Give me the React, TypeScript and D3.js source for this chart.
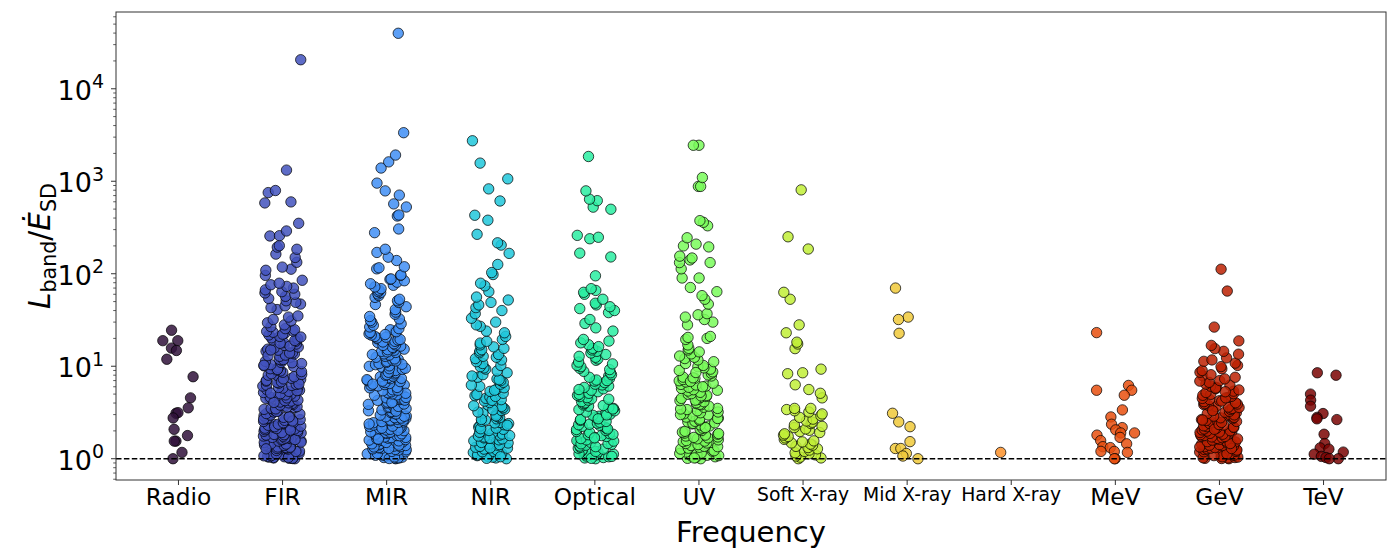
import React from "react";
import * as d3 from "d3";

// ---------------- DATA ----------------
const categories = [
  "Radio", "FIR", "MIR", "NIR", "Optical", "UV",
  "Soft X-ray", "Mid X-ray", "Hard X-ray", "MeV", "GeV", "TeV",
];

const radio = [24.5, 18.9, 18.9, 15.7, 14.8, 11.9, 7.7, 4.55, 3.55, 3.1, 3.15, 2.76, 2.08, 1.78, 1.55, 1.55, 1.17, 1.0];

const fir = [
  1.0, 1.01, 1.02, 1.03, 1.04, 1.05, 1.06, 1.08, 1.09, 1.1, 1.12, 1.14, 1.16, 1.18, 1.21, 1.24,
  1.005, 1.015, 1.035, 1.075, 1.13, 1.2, 1.23,
  1.27, 1.29, 1.3, 1.32, 1.34, 1.36, 1.38, 1.4, 1.42, 1.45, 1.47, 1.5, 1.53, 1.56,
  1.28, 1.33, 1.39, 1.44, 1.51, 1.55,
  1.6, 1.62, 1.65, 1.68, 1.7, 1.73, 1.76, 1.8, 1.83, 1.86, 1.9, 1.94, 1.98,
  1.61, 1.67, 1.75, 1.82, 1.92,
  2.02, 2.06, 2.1, 2.14, 2.18, 2.2, 2.25, 2.3, 2.34, 2.38, 2.43, 2.48,
  2.04, 2.12, 2.22, 2.36, 2.45,
  2.53, 2.6, 2.65, 2.7, 2.75, 2.8, 2.86, 2.92, 3.0, 3.05, 3.12,
  2.56, 2.68, 2.83, 2.96, 3.08,
  3.2, 3.28, 3.35, 3.42, 3.5, 3.58, 3.66, 3.75, 3.85, 3.95,
  3.24, 3.46, 3.62, 3.8,
  4.02, 4.1, 4.2, 4.3, 4.42, 4.5, 4.62, 4.75, 4.85, 4.98,
  4.06, 4.25, 4.55, 4.9,
  5.05, 5.2, 5.35, 5.5, 5.6, 5.8, 5.95, 6.1, 6.25,
  5.12, 5.45, 5.9, 6.2,
  6.35, 6.55, 6.7, 6.9, 7.05, 7.2, 7.4, 7.6, 7.85,
  6.45, 6.8, 7.3, 7.7,
  8.0, 8.3, 8.6, 8.9, 9.1, 9.4, 9.7, 9.95,
  8.15, 8.75, 9.25,
  10.1, 10.4, 10.7, 11.0, 11.3, 11.6, 11.9, 12.2, 12.5,
  10.25, 10.9, 11.8,
  12.8, 13.2, 13.6, 14.0, 14.5, 14.9, 15.3, 15.7,
  13.0, 13.9, 15.0,
  16.1, 16.8, 17.4, 18.0, 18.6, 19.2, 19.8,
  16.5, 17.7, 19.0,
  20.3, 21.0, 21.8, 22.6, 23.3, 24.0, 24.8,
  20.7, 22.2, 23.8,
  25.5, 26.8, 28.0, 29.5, 31.0,
  32, 34, 35,
  41, 43, 45, 47, 49,
  51, 54, 57, 60, 62,
  64, 67, 70, 73, 76, 79,
  85, 96,
  109, 112, 118, 133, 150, 163, 184, 194, 201, 256, 258, 290, 351, 583, 598, 754, 794, 1320, 20600,
];

const mir = [
  1.0, 1.01, 1.02, 1.03, 1.04, 1.05, 1.07, 1.08, 1.1, 1.11, 1.13, 1.15, 1.17, 1.19, 1.22, 1.25,
  1.005, 1.025, 1.045, 1.09, 1.14, 1.2, 1.24,
  1.26, 1.28, 1.3, 1.31, 1.33, 1.35, 1.37, 1.39, 1.41, 1.44, 1.46, 1.49, 1.52, 1.54, 1.57,
  1.29, 1.34, 1.4, 1.45, 1.5, 1.56,
  1.59, 1.61, 1.64, 1.67, 1.69, 1.72, 1.75, 1.78, 1.81, 1.84, 1.88, 1.91, 1.95, 1.99,
  1.63, 1.7, 1.77, 1.86, 1.93,
  2.01, 2.05, 2.08, 2.12, 2.16, 2.19, 2.23, 2.27, 2.31, 2.36, 2.4, 2.45, 2.5,
  2.03, 2.14, 2.25, 2.38, 2.47,
  2.52, 2.57, 2.62, 2.67, 2.72, 2.78, 2.84, 2.9, 2.96, 3.02, 3.08, 3.14,
  2.6, 2.75, 2.88, 3.05,
  3.18, 3.24, 3.3, 3.37, 3.44, 3.5, 3.57, 3.64, 3.71, 3.79, 3.87, 3.95,
  3.27, 3.48, 3.68, 3.9,
  4.0, 4.1, 4.18, 4.27, 4.36, 4.45, 4.55, 4.65, 4.75, 4.86, 4.97,
  4.05, 4.3, 4.6, 4.9,
  5.03, 5.16, 5.3, 5.43, 5.56, 5.7, 5.84, 5.98, 6.13, 6.28,
  5.1, 5.5, 5.9, 6.2,
  6.33, 6.5, 6.66, 6.82, 6.99, 7.16, 7.34, 7.52, 7.7, 7.9,
  6.4, 6.9, 7.4, 7.8,
  8.0, 8.25, 8.5, 8.75, 9.0, 9.25, 9.5, 9.75, 9.98,
  8.1, 8.6, 9.4,
  10.1, 10.4, 10.7, 11.0, 11.3, 11.6, 11.9, 12.2, 12.5,
  10.5, 11.4, 12.0,
  12.8, 13.2, 13.6, 14.1, 14.5, 14.9, 15.3, 15.7,
  13.4, 14.3, 15.1,
  16.0, 16.5, 17.0, 17.5, 18.0, 18.6, 19.2, 19.8,
  16.8, 18.3, 19.5,
  20.2, 21.0, 21.7, 22.4, 23.2, 24.0, 24.8,
  20.6, 22.0, 23.6,
  25.5, 26.6, 27.7, 28.8, 30.0, 31.2,
  32.5, 34.5, 36.5, 38.5,
  41, 44, 46.5, 49,
  51, 53, 55.5, 58, 60.5, 62.5,
  64, 66.5, 69, 72, 75, 78,
  81, 84, 87,
  88, 96, 97, 113, 116, 119, 139, 151, 170, 184, 278, 305, 421, 432, 527, 569, 708, 787, 955, 1390, 1620, 1920, 3350, 39800,
];

const nir = [
  1.0, 1.02, 1.04, 1.06, 1.08, 1.11, 1.14, 1.17, 1.2, 1.24,
  1.01, 1.05, 1.1, 1.19,
  1.27, 1.3, 1.33, 1.36, 1.4, 1.44, 1.48, 1.52, 1.56,
  1.31, 1.42, 1.5,
  1.6, 1.64, 1.68, 1.72, 1.76, 1.8, 1.85, 1.9, 1.96,
  1.66, 1.78, 1.93,
  2.02, 2.08, 2.14, 2.2, 2.26, 2.33, 2.4, 2.47,
  2.11, 2.3, 2.44,
  2.54, 2.62, 2.7, 2.78, 2.86, 2.94, 3.03, 3.12,
  2.66, 2.9,
  3.2, 3.32, 3.44, 3.56, 3.68, 3.8, 3.93,
  3.38, 3.74,
  4.05, 4.2, 4.35, 4.5, 4.65, 4.8, 4.95,
  4.28, 4.72,
  5.1, 5.35, 5.6, 5.85, 6.05, 6.25,
  5.5,
  6.4, 6.7, 7.0, 7.3, 7.6, 7.85,
  7.15,
  8.1, 8.5, 8.9, 9.3, 9.6, 9.9,
  10.2, 10.7, 11.2, 11.7, 12.1, 12.5,
  12.8, 13.4, 14.0, 14.6, 15.1, 15.6,
  16.2, 17.0, 17.8, 18.6, 19.5,
  21, 23, 24,
  27, 28, 30, 33, 37, 40, 43, 46, 49, 52, 56, 64, 74, 79, 98, 103, 126, 166, 204, 216, 267, 379, 429, 612, 827, 1062, 1571, 2740,
];

const optical = [
  1.0, 1.02, 1.03, 1.05, 1.07, 1.1, 1.12, 1.15, 1.18, 1.21, 1.24,
  1.01, 1.06, 1.13, 1.2,
  1.27, 1.3, 1.33, 1.37, 1.4, 1.43, 1.46, 1.5, 1.53, 1.57,
  1.35, 1.45, 1.55,
  1.6, 1.65, 1.7, 1.74, 1.78, 1.82, 1.87, 1.92, 1.97,
  1.68, 1.84,
  2.02, 2.07, 2.13, 2.18, 2.24, 2.3, 2.36, 2.42, 2.48,
  2.1, 2.33,
  2.53, 2.6, 2.66, 2.73, 2.8, 2.88, 2.95, 3.03, 3.11,
  2.7, 2.98,
  3.2, 3.3, 3.4, 3.5, 3.6, 3.7, 3.82, 3.94,
  3.45, 3.76,
  4.02, 4.15, 4.3, 4.45, 4.58, 4.7, 4.84, 4.97,
  4.4,
  5.1, 5.3, 5.5, 5.7, 5.9, 6.1, 6.28,
  5.6,
  6.4, 6.65, 6.9, 7.1, 7.35, 7.6, 7.85,
  7.0,
  8.1, 8.5, 8.8, 9.2, 9.5, 9.9,
  10.2, 10.6, 11.1, 11.6, 12.0, 12.5,
  12.8, 13.4, 13.9, 14.5, 15.0, 15.6,
  16.3, 17.1, 17.9, 18.7, 19.5,
  24, 26, 29, 32, 38, 40, 42, 44, 46, 48, 53, 60, 63, 66, 69, 95, 152, 167, 239, 248, 260, 498, 525, 617, 640, 787, 1853,
];

const uv = [
  1.0, 1.01, 1.03, 1.05, 1.07, 1.09, 1.12, 1.15, 1.18, 1.21, 1.25,
  1.02, 1.08, 1.14, 1.22,
  1.27, 1.3, 1.33, 1.36, 1.39, 1.42, 1.46, 1.5, 1.53, 1.57,
  1.35, 1.48, 1.55,
  1.6, 1.64, 1.68, 1.72, 1.76, 1.8, 1.84, 1.89, 1.94, 1.98,
  1.7, 1.87,
  2.02, 2.08, 2.14, 2.2, 2.26, 2.32, 2.38, 2.44, 2.5,
  2.17, 2.41,
  2.54, 2.61, 2.68, 2.75, 2.82, 2.9, 2.98, 3.06, 3.14,
  2.72, 3.0,
  3.2, 3.3, 3.4, 3.5, 3.6, 3.7, 3.82, 3.94,
  3.45, 3.88,
  4.02, 4.13, 4.25, 4.37, 4.49, 4.6, 4.72, 4.84, 4.97,
  4.3, 4.78,
  5.05, 5.22, 5.4, 5.58, 5.75, 5.92, 6.1, 6.27,
  5.5, 6.0,
  6.36, 6.55, 6.76, 6.97, 7.18, 7.4, 7.62, 7.85,
  6.85, 7.5,
  8.05, 8.4, 8.7, 9.0, 9.3, 9.6, 9.9,
  8.55,
  10.2, 10.7, 11.2, 11.7, 12.1, 12.5,
  12.9, 13.6, 14.3, 15.0, 15.6,
  17, 19.5, 20, 20.5, 21, 28, 30, 32, 34, 36, 37, 47, 53, 58, 64, 71, 90, 90, 113, 132, 132, 141, 148, 155,
  195, 200, 209, 245, 330, 360, 375, 880, 880, 1097, 2450, 2450,
];

const softXray = [
  1.0, 1.02, 1.04, 1.07, 1.1, 1.13, 1.16, 1.2, 1.24,
  1.28, 1.32, 1.36, 1.4, 1.44, 1.48, 1.52, 1.56,
  1.62, 1.68, 1.74, 1.8, 1.86, 1.92, 1.97,
  2.03, 2.1, 2.17, 2.24, 2.32, 2.4, 2.48,
  2.56, 2.68, 2.8, 2.92, 3.05,
  3.2, 3.3, 3.4, 3.5, 3.5, 4.55, 5.1, 5.6, 6.3, 8.3, 8.5, 9.3, 15.5, 17.4, 18.2, 23, 28, 53, 63, 185, 251, 807,
];

const midXray = [70, 34, 32, 22.7, 3.1, 2.5, 2.22, 1.53, 1.29, 1.29, 1.14, 1.07, 1.0];

const hardXray = [1.17];

const mev = [23.1, 6.2, 5.5, 5.5, 4.86, 3.37, 2.83, 2.36, 2.17, 2.05, 1.9, 1.9, 1.8, 1.7, 1.57, 1.45, 1.35, 1.32, 1.2, 1.2, 1.17, 1.0, 1.0];

const gev = [
  1.0, 1.01, 1.02, 1.03, 1.04, 1.06, 1.07, 1.09, 1.1, 1.12, 1.14, 1.16, 1.18, 1.2, 1.22, 1.25,
  1.005, 1.025, 1.05, 1.08, 1.13, 1.19, 1.24,
  1.26, 1.28, 1.3, 1.32, 1.35, 1.37, 1.39, 1.42, 1.44, 1.47, 1.49, 1.52, 1.55, 1.58,
  1.29, 1.34, 1.4, 1.46, 1.53,
  1.59, 1.62, 1.66, 1.69, 1.72, 1.75, 1.78, 1.82, 1.85, 1.88, 1.92, 1.95, 1.99,
  1.64, 1.74, 1.84, 1.94,
  2.01, 2.05, 2.1, 2.14, 2.18, 2.22, 2.27, 2.31, 2.36, 2.41, 2.45, 2.5,
  2.08, 2.2, 2.34, 2.47,
  2.53, 2.59, 2.65, 2.71, 2.77, 2.83, 2.89, 2.95, 3.01, 3.08, 3.14,
  2.62, 2.8, 2.98,
  3.18, 3.26, 3.34, 3.42, 3.5, 3.58, 3.67, 3.76, 3.85, 3.94,
  3.3, 3.62, 3.9,
  4.03, 4.14, 4.25, 4.37, 4.49, 4.61, 4.73, 4.85, 4.97,
  4.2, 4.55,
  5.05, 5.2, 5.38, 5.55, 5.72, 5.9, 6.08, 6.25,
  5.3, 5.8,
  6.4, 6.7, 7.0, 7.3, 7.6, 7.9,
  6.9,
  8.1, 8.6, 9.0, 9.4, 9.9,
  10.2, 10.8, 11.3, 11.7, 12.3,
  13.5, 14.5, 15.5,
  16.8, 18.8,
  26.5, 65, 112,
];

const tev = [8.5, 8.0, 5.0, 4.3, 3.7, 3.08, 2.8, 2.7, 2.65, 1.84, 1.46, 1.31, 1.27, 1.18, 1.12, 1.06, 1.03, 1.0, 1.0];

const seriesValues = [radio, fir, mir, nir, optical, uv, softXray, midXray, hardXray, mev, gev, tev];

// turbo colormap sampled at i/11
const palette = [
  "#30123b", "#4252bd", "#3f8ef5", "#20c7db", "#29eda1", "#79fc5a",
  "#c1ef37", "#f0c939", "#fc9129", "#e74f0e", "#bc2102", "#7a0402",
];

const yTickExps = [0, 1, 2, 3, 4];
const yLabelParts = { main: "L", sub1: "band", mid: "Ė", sub2: "SD" };
const xAxisTitle = "Frequency";

// ---------------- LAYOUT ----------------
const W = 1390;
const H = 548;
const left = 116;
const right = 1386;
const top = 12;
const bottom = 480;
const FONT = "DejaVu Sans, sans-serif";

function jitter(c: number, i: number) {
  const h = Math.sin((c + 1) * 127.1 + i * 311.7 + c * i * 0.37) * 43758.5453;
  return h - Math.floor(h) - 0.5;
}

export default function App() {
  const x = d3.scaleLinear().domain([-0.6, 11.6]).range([left, right]);
  const y = d3.scaleLog().domain([Math.pow(10, -0.23), Math.pow(10, 4.83)]).range([bottom, top]);

  const minorTicks: number[] = [];
  for (let e = -1; e <= 4; e++) {
    for (let m = 2; m <= 9; m++) {
      const v = m * Math.pow(10, e);
      const py = y(v);
      if (py >= top && py <= bottom) minorTicks.push(v);
    }
  }

  const points: { cx: number; cy: number; color: string; key: string }[] = [];
  seriesValues.forEach((vals, c) => {
    vals.forEach((v, i) => {
      points.push({
        cx: x(c + jitter(c, i) * 0.38),
        cy: y(v),
        color: palette[c],
        key: `${c}-${i}`,
      });
    });
  });

  return (
    <svg width={W} height={H} style={{ position: "absolute", left: 0, top: 0, background: "#fff" }}>
      <rect x={0} y={0} width={W} height={H} fill="#fff" />
      {/* points */}
      <g>
        {points.map((p) => (
          <circle
            key={p.key}
            cx={p.cx}
            cy={p.cy}
            r={5.2}
            fill={p.color}
            fillOpacity={0.85}
            stroke="#000"
            strokeOpacity={0.8}
            strokeWidth={0.9}
          />
        ))}
      </g>
      {/* dashed reference line */}
      <line x1={left} x2={right} y1={y(1)} y2={y(1)} stroke="#000" strokeWidth={1.5} strokeDasharray="5.5 2.4" />
      {/* frame */}
      <rect x={left} y={top} width={right - left} height={bottom - top} fill="none" stroke="#333" strokeWidth={1} />
      {/* y ticks */}
      {yTickExps.map((e) => (
        <g key={`yt${e}`}>
          <line x1={left - 5} x2={left} y1={y(Math.pow(10, e))} y2={y(Math.pow(10, e))} stroke="#333" strokeWidth={1} />
          <text x={104} y={y(Math.pow(10, e)) + 11} textAnchor="end" fontFamily={FONT} fontSize={27} fill="#000">
            10
            <tspan dy={-11.5} fontSize={19}>{e}</tspan>
          </text>
        </g>
      ))}
      {minorTicks.map((v, i) => (
        <line key={`ym${i}`} x1={left - 2.8} x2={left} y1={y(v)} y2={y(v)} stroke="#333" strokeWidth={0.8} />
      ))}
      {/* x ticks */}
      {categories.map((cat, i) => {
        const fs = cat.includes("X-ray") ? 18.8 : 23.3;
        return (
          <g key={`xt${i}`}>
            <line x1={x(i)} x2={x(i)} y1={bottom} y2={bottom + 5} stroke="#333" strokeWidth={1} />
            <text x={x(i)} y={487 + 0.76 * fs} textAnchor="middle" fontFamily={FONT} fontSize={fs} fill="#000">
              {cat}
            </text>
          </g>
        );
      })}
      {/* axis titles */}
      <text x={(left + right) / 2} y={542} textAnchor="middle" fontFamily={FONT} fontSize={29} fill="#000">
        {xAxisTitle}
      </text>
      <text
        transform={`translate(50, ${(top + bottom) / 2}) rotate(-90)`}
        textAnchor="middle"
        fontFamily={FONT}
        fontSize={29.5}
        fill="#000"
      >
        <tspan fontStyle="italic">{yLabelParts.main}</tspan>
        <tspan fontSize={20.6} dy={6}>{yLabelParts.sub1}</tspan>
        <tspan dy={-6}>/</tspan>
        <tspan fontStyle="italic">{yLabelParts.mid}</tspan>
        <tspan fontSize={20.6} dy={6}>{yLabelParts.sub2}</tspan>
      </text>
    </svg>
  );
}
